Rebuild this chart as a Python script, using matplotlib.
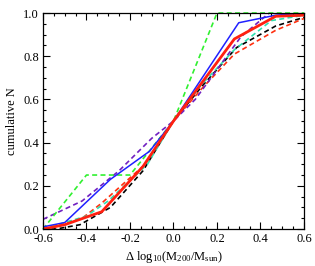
import matplotlib
matplotlib.use("Agg")
import matplotlib.pyplot as plt
from matplotlib.ticker import MultipleLocator, FuncFormatter

plt.rcParams['font.family'] = ['Liberation Serif', 'DejaVu Serif']
plt.rcParams['mathtext.fontset'] = 'custom'
plt.rcParams['mathtext.rm'] = 'Liberation Serif'
plt.rcParams['mathtext.it'] = 'Liberation Serif:italic'

# cumulative distributions
x_black = [-0.6, -0.54, -0.43, -0.29, -0.14, 0.0, 0.13, 0.29, 0.47, 0.6]
y_black = [0.0, 0.0, 0.02, 0.10, 0.27, 0.5, 0.66, 0.84, 0.94, 0.98]

x_reddash = [-0.6, -0.42, -0.33, -0.13, 0.0, 0.13, 0.28, 0.47, 0.6]
y_reddash = [0.0, 0.05, 0.12, 0.30, 0.5, 0.65, 0.81, 0.92, 0.975]

x_cyan = [-0.6, -0.4, -0.3, -0.12, 0.0, 0.13, 0.28, 0.45, 0.6]
y_cyan = [0.0, 0.06, 0.13, 0.30, 0.5, 0.67, 0.83, 0.965, 0.99]

x_purple = [-0.6, -0.42, -0.25, -0.1, 0.0, 0.1, 0.31, 0.44, 0.6]
y_purple = [0.045, 0.13, 0.27, 0.42, 0.5, 0.6, 0.89, 1.0, 1.0]

x_green = [-0.6, -0.4, -0.2, 0.0, 0.2, 0.6]
y_green = [0.0, 0.25, 0.25, 0.5, 1.0, 1.0]

x_blue = [-0.6, -0.5, -0.29, -0.11, 0.0, 0.3, 0.47, 0.6]
y_blue = [0.01, 0.03, 0.23, 0.36, 0.5, 0.955, 0.99, 1.0]

x_red = [-0.6, -0.5, -0.33, -0.14, 0.0, 0.28, 0.47, 0.6]
y_red = [0.0, 0.02, 0.08, 0.29, 0.5, 0.88, 0.985, 0.99]

fig = plt.figure(figsize=(3.15, 2.66), dpi=100)
ax = fig.add_axes([0.1365, 0.139, 0.8285, 0.812])

dash = (0, (3, 2))
ax.plot(x_black, y_black, color='black', lw=1.2, ls=dash)
ax.plot(x_reddash, y_reddash, color='#ff3010', lw=1.2, ls=dash)
ax.plot(x_cyan, y_cyan, color='#30e0b0', lw=1.2, ls=dash)
ax.plot(x_purple, y_purple, color='#7020c0', lw=1.2, ls=dash)
ax.plot(x_green, y_green, color='#30f030', lw=1.2, ls=dash, clip_on=False)
ax.plot(x_blue, y_blue, color='#2020ff', lw=1.1)
ax.plot(x_red, y_red, color='#ff2010', lw=2.0)

ax.set_xlim(-0.6, 0.6)
ax.set_ylim(0, 1.0)
ax.xaxis.set_major_locator(MultipleLocator(0.2))
ax.xaxis.set_minor_locator(MultipleLocator(0.05))
ax.yaxis.set_major_locator(MultipleLocator(0.2))
ax.yaxis.set_minor_locator(MultipleLocator(0.05))
ax.xaxis.set_major_formatter(FuncFormatter(lambda v, p: f"{v:.1f}"))
ax.yaxis.set_major_formatter(FuncFormatter(lambda v, p: f"{v:.1f}"))
ax.tick_params(which='both', direction='in', top=True, right=True, labelsize=9, width=0.8)
ax.tick_params(which='major', length=5, pad=3)
ax.tick_params(which='minor', length=2.5)
for s in ax.spines.values():
    s.set_linewidth(0.9)

ax.set_xlabel(r'$\Delta$ log$_{10}$(M$_{200}$/M$_{\rm sun}$)', fontsize=9, labelpad=3)
ax.set_ylabel('cumulative N', fontsize=9, labelpad=4)

fig.savefig("out.png", dpi=100)
